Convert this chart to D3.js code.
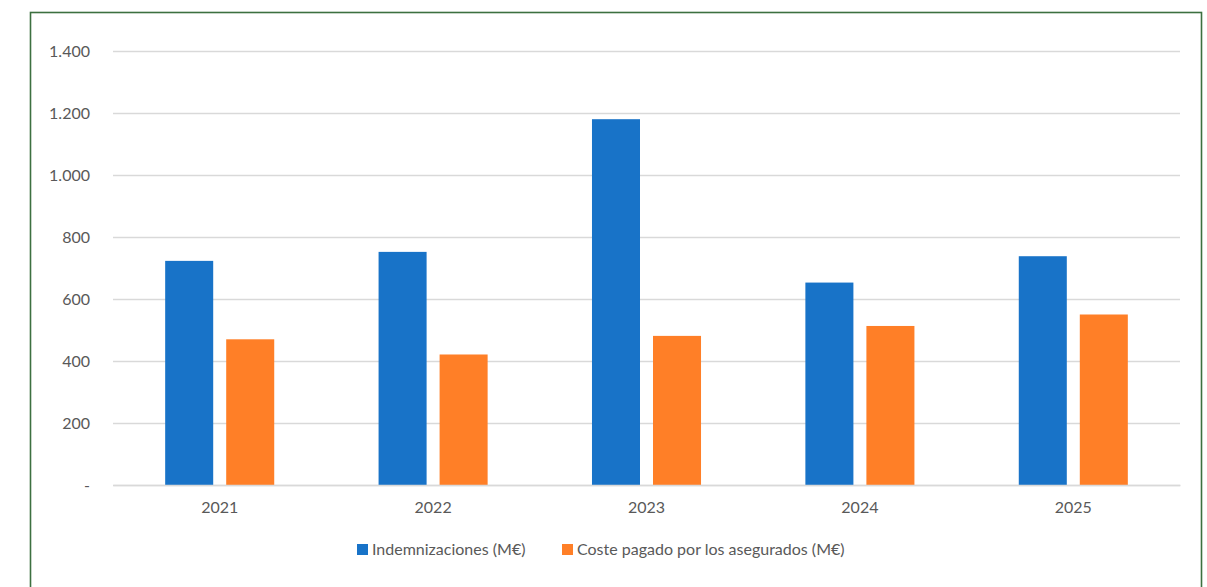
<!DOCTYPE html>
<html><head><meta charset="utf-8">
<script src="https://cdn.jsdelivr.net/npm/d3@7"></script>
<style>
html,body{margin:0;padding:0;background:#fff;}
svg{display:block;}
text{font-family:Lato,"Open Sans",sans-serif;fill:#595959;}
</style></head>
<body>
<svg id="chart" width="1207" height="587"></svg>
<script>
const years = ["2021","2022","2023","2024","2025"];
const seriesNames = ["Indemnizaciones (M€)","Coste pagado por los asegurados (M€)"];
const indemnizaciones = [723, 752, 1180, 653, 738];
const costeAsegurados = [470, 421, 481, 513, 550];
const yTicks = [0,200,400,600,800,1000,1200,1400];
const yTickLabels = ["-","200","400","600","800","1.000","1.200","1.400"];
const colors = ["#1873C8","#FF7F27"];

const svg = d3.select("#chart");
// frame
svg.append("rect").attr("x",30.5).attr("y",12.5).attr("width",1171).attr("height",600)
  .attr("fill","none").attr("stroke","#3D7040").attr("stroke-width",1.6);

const pLeft=113, pRight=1180, pTop=51, pBottom=485;
const y = d3.scaleLinear().domain([0,1400]).range([pBottom,pTop]);
const x0 = d3.scaleBand().domain(years).range([pLeft,pRight]).paddingInner(0).paddingOuter(0);
const x1 = d3.scaleBand().domain(seriesNames).range([0,x0.bandwidth()]).paddingInner(0.213).paddingOuter(0.855);

// grid
const yAxis = d3.axisLeft(y).tickValues(yTicks).tickSize(-(pRight-pLeft)).tickPadding(23)
  .tickFormat((d,i)=>yTickLabels[i]);
const gy = svg.append("g").attr("transform",`translate(${pLeft},0)`).call(yAxis);
gy.select(".domain").remove();
gy.selectAll(".tick line").attr("stroke","#d9d9d9").attr("stroke-width",1.3);
gy.selectAll(".tick text").attr("font-size",16).attr("fill","#595959").attr("font-family","Lato");

const data = years.map((yr,i)=>({year:yr, vals:[indemnizaciones[i], costeAsegurados[i]]}));
const groups = svg.append("g").selectAll("g").data(data).join("g")
  .attr("transform",d=>`translate(${x0(d.year)},0)`);
groups.selectAll("rect").data(d=>d.vals.map((v,j)=>({v, s:seriesNames[j], j})))
  .join("rect")
  .attr("x",d=>x1(d.s)).attr("width",x1.bandwidth())
  .attr("y",d=>y(d.v)).attr("height",d=>y(0)-y(d.v))
  .attr("fill",d=>colors[d.j]);

// x axis labels
const xAxis = d3.axisBottom(x0).tickSize(0).tickPadding(17);
const gx = svg.append("g").attr("transform",`translate(0,${pBottom})`).call(xAxis);
gx.select(".domain").attr("stroke","#d9d9d9").attr("stroke-width",1.3);
gx.selectAll(".tick text").attr("font-size",16).attr("fill","#595959").attr("font-family","Lato");

// legend
const legendX = [357, 562];
const lg = svg.append("g").selectAll("g").data(seriesNames).join("g")
  .attr("transform",(d,i)=>`translate(${legendX[i]},544)`);
lg.append("rect").attr("width",11).attr("height",11).attr("fill",(d,i)=>colors[i]);
lg.append("text").attr("x",15).attr("y",11).attr("font-size",16).text(d=>d);
</script>
</body></html>
